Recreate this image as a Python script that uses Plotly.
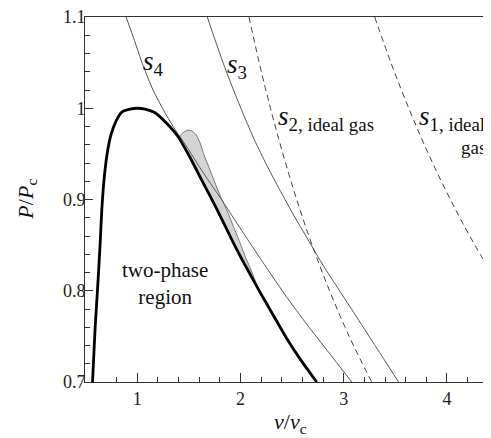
import plotly.graph_objects as go

# ---- data ----
binodal_v = [0.566, 0.590, 0.614, 0.639, 0.656, 0.677, 0.706, 0.745, 0.794, 0.852, 0.929, 1.000,
             1.075, 1.172, 1.288, 1.394, 1.511, 1.625, 1.763, 1.860, 1.937, 2.002, 2.069,
             2.191, 2.313, 2.446, 2.585, 2.738]
binodal_P = [0.700, 0.757, 0.801, 0.850, 0.889, 0.921, 0.949, 0.971, 0.986, 0.996, 0.999, 1.000,
             0.999, 0.995, 0.983, 0.969, 0.946, 0.921, 0.891, 0.869, 0.851, 0.837, 0.823,
             0.798, 0.774, 0.748, 0.724, 0.700]

lens_v = [1.404, 1.423, 1.453, 1.491, 1.530, 1.569, 1.608, 1.646, 1.695, 1.753, 1.811, 1.879,
          1.937, 1.990, 2.044, 2.097, 2.136, 2.165, 2.189]
lens_P = [0.967, 0.971, 0.974, 0.976, 0.975, 0.971, 0.962, 0.949, 0.935, 0.918, 0.902, 0.885,
          0.869, 0.854, 0.838, 0.824, 0.813, 0.804, 0.798]

s4_v = [0.891, 0.973, 1.055, 1.152, 1.268, 1.375, 1.472, 1.583, 1.700, 1.816, 1.942, 2.082,
        2.247, 2.441, 2.644, 2.857, 3.078]
s4_P = [1.100, 1.074, 1.047, 1.020, 0.995, 0.975, 0.959, 0.939, 0.919, 0.900, 0.878, 0.854,
        0.826, 0.794, 0.763, 0.732, 0.700]

s3_v = [1.678, 1.753, 1.840, 1.932, 2.029, 2.136, 2.252, 2.378, 2.514, 2.654, 2.799, 2.954,
        3.109, 3.298, 3.531]
s3_P = [1.100, 1.075, 1.047, 1.020, 0.993, 0.965, 0.938, 0.911, 0.883, 0.856, 0.828, 0.801,
        0.774, 0.741, 0.700]

s2_v = [2.082, 2.181, 2.290, 2.411, 2.544, 2.694, 2.863, 3.053, 3.271]
s2_P = [1.10, 1.05, 1.00, 0.95, 0.90, 0.85, 0.80, 0.75, 0.70]

s1_v = [3.300, 3.457, 3.630, 3.821, 4.033, 4.271, 4.538]
s1_P = [1.10, 1.05, 1.00, 0.95, 0.90, 0.85, 0.80]

x_ticks = [1, 2, 3, 4]
x_minor = [0.8, 1.2, 1.4, 1.6, 1.8, 2.2, 2.4, 2.6, 2.8, 3.2, 3.4, 3.6, 3.8, 4.2, 4.4]
y_ticks = [0.7, 0.8, 0.9, 1.0, 1.1]
y_ticktext = ["0.7", "0.8", "0.9", "1", "1.1"]

SERIF = "Liberation Serif"
THIN = "#555555"

# inner edge of the lens follows the right branch of the binodal
inner = [(v, p) for i, (v, p) in enumerate(zip(binodal_v, binodal_P))
         if i >= 11 and lens_v[0] < v < lens_v[-1]]
poly_v = lens_v + [v for v, p in reversed(inner)] + [lens_v[0]]
poly_P = lens_P + [p for v, p in reversed(inner)] + [lens_P[0]]

fig = go.Figure()
fig.add_trace(go.Scatter(x=poly_v, y=poly_P, mode="lines", fill="toself",
                         fillcolor="#d4d4d4",
                         line=dict(color="#666666", width=0.9, shape="spline", smoothing=0.5)))
fig.add_trace(go.Scatter(x=s4_v, y=s4_P, mode="lines",
                         line=dict(color=THIN, width=1, shape="spline", smoothing=0.5)))
fig.add_trace(go.Scatter(x=s3_v, y=s3_P, mode="lines",
                         line=dict(color=THIN, width=1, shape="spline", smoothing=0.5)))
fig.add_trace(go.Scatter(x=s2_v, y=s2_P, mode="lines",
                         line=dict(color="#444444", width=1, dash="6px,4px", shape="spline")))
fig.add_trace(go.Scatter(x=s1_v, y=s1_P, mode="lines",
                         line=dict(color="#444444", width=1, dash="6px,4px", shape="spline")))
fig.add_trace(go.Scatter(x=binodal_v, y=binodal_P, mode="lines",
                         line=dict(color="black", width=2.8, shape="spline", smoothing=0.6)))

ann = []
def label(text, x, y, size, xanchor="left", yanchor="middle", xref="x", yref="y", angle=0):
    ann.append(dict(text=text, x=x, y=y, xref=xref, yref=yref, showarrow=False,
                    xanchor=xanchor, yanchor=yanchor, textangle=angle,
                    font=dict(family=SERIF, size=size, color="#111111")))

label("<i>s</i><sub>4</sub>", 1.037, 1.050, 27)
label("<i>s</i><sub>3</sub>", 1.85, 1.046, 27)
label("<i>s</i><sub>2, ideal gas</sub>", 2.344, 0.989, 27)
label("<i>s</i><sub>1, ideal</sub>", 3.71, 0.989, 27)
label("gas", 4.40, 0.957, 19, xanchor="right")
label("two-phase<br>region", 1.27, 0.808, 21, xanchor="center")
label("<i>P</i>/<i>P</i><sub>c</sub>", -0.145, 0.5, 22, xanchor="center",
      xref="paper", yref="paper", angle=-90)
label("<i>v</i>/<i>v</i><sub>c</sub>", 0.507, -0.113, 22, xanchor="center",
      xref="paper", yref="paper")

# the page body adds an 8px offset, so the figure is drawn 8px smaller with shifted margins
fig.update_layout(
    width=483, height=430, autosize=False,
    margin=dict(l=77, r=0, t=9, b=56, pad=0),
    plot_bgcolor="white", paper_bgcolor="white",
    showlegend=False, annotations=ann,
    xaxis=dict(range=[0.493, 4.427], tickmode="array", tickvals=x_ticks,
               ticks="inside", ticklen=9, tickwidth=1, tickcolor="#333333",
               showline=True, linecolor="#333333", linewidth=1, mirror=True,
               showgrid=False, zeroline=False, ticklabeloverflow="allow",
               minor=dict(tickmode="array", tickvals=x_minor, ticks="inside", ticklen=5,
                          tickwidth=1, tickcolor="#333333", showgrid=False),
               tickfont=dict(family=SERIF, size=18, color="#222222")),
    yaxis=dict(range=[0.7, 1.1], tickmode="array", tickvals=y_ticks, ticktext=y_ticktext,
               ticks="inside", ticklen=8, tickwidth=1, tickcolor="#333333",
               showline=True, linecolor="#333333", linewidth=1,
               showgrid=False, zeroline=False, ticklabelstandoff=-5,
               ticklabeloverflow="allow",
               minor=dict(dtick=0.02, tick0=0.7, ticks="inside", ticklen=5,
                          tickwidth=1, tickcolor="#333333", showgrid=False),
               tickfont=dict(family=SERIF, size=18, color="#222222")),
)

fig.write_html("out.html")
